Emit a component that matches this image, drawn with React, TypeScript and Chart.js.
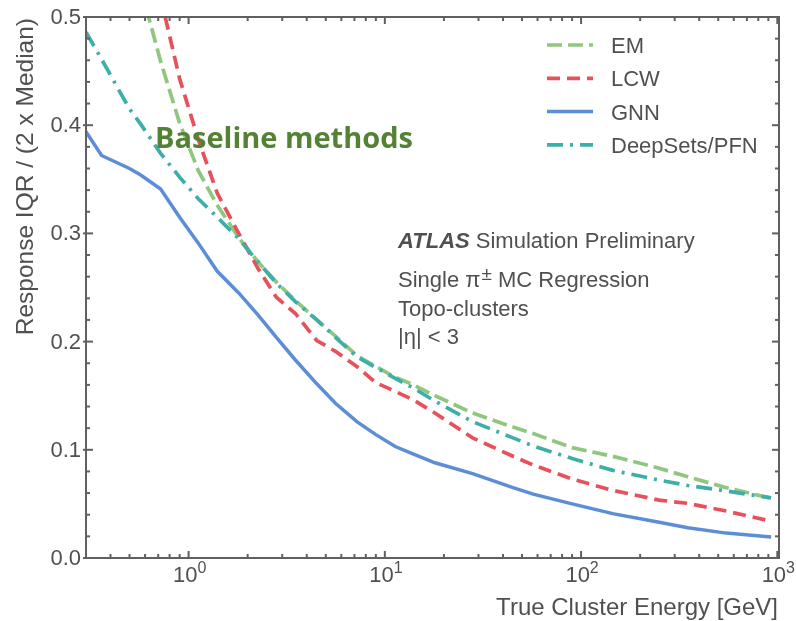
import React, { useEffect, useRef } from "react";
import { Chart, registerables } from "chart.js";

Chart.register(...registerables);

// ---- data ----
const energies = [0.3, 0.36, 0.5, 0.57, 0.72, 0.9, 1.12, 1.4, 1.8, 2.25, 2.8, 3.5, 4.5, 5.6, 7.2, 9, 11.3, 14, 18, 28, 45, 57, 90, 145, 250, 350, 550, 930];

const emValues = [null, null, null, 0.527, 0.459, 0.402, 0.358, 0.326, 0.296, 0.274, 0.255, 0.238, 0.22, 0.205, 0.187, 0.177, 0.167, 0.16, 0.15, 0.134, 0.121, 0.115, 0.102, 0.094, 0.083, 0.075, 0.065, 0.0552];
const lcwValues = [null, null, null, null, 0.518, 0.443, 0.387, 0.337, 0.3, 0.268, 0.241, 0.226, 0.201, 0.191, 0.177, 0.162, 0.154, 0.146, 0.134, 0.111, 0.094, 0.086, 0.073, 0.0625, 0.0535, 0.0505, 0.0434, 0.034];
const gnnValues = [0.394, 0.372, 0.36, 0.354, 0.341, 0.315, 0.291, 0.265, 0.245, 0.225, 0.204, 0.183, 0.161, 0.143, 0.126, 0.114, 0.103, 0.096, 0.088, 0.078, 0.065, 0.059, 0.05, 0.041, 0.033, 0.028, 0.023, 0.0195];
const deepSetsValues = [0.486, 0.461, 0.415, 0.401, 0.374, 0.352, 0.332, 0.315, 0.295, 0.274, 0.254, 0.237, 0.22, 0.204, 0.186, 0.176, 0.166, 0.157, 0.145, 0.126, 0.111, 0.1035, 0.092, 0.081, 0.072, 0.067, 0.062, 0.0555];

const seriesLabels = ["EM", "LCW", "GNN", "DeepSets/PFN"];

const yMajorTicks = [0, 0.1, 0.2, 0.3, 0.4, 0.5];
const xMajorTicks = [1, 10, 100, 1000];
const xTickExponents = ["0", "1", "2", "3"];

const xTitle = "True Cluster Energy [GeV]";
const yTitle = "Response IQR / (2 x Median)";
const overlayTitle = "Baseline methods";
const atlasLines = ["Single \u03c0", "Topo-clusters", "|\u03b7| < 3"];

// ---- styles ----
const AXIS = "#606060";
const TEXT = "#505050";
const FONT = "'Liberation Sans', Arial, sans-serif";

const toPoints = (vals: (number | null)[]) => energies.map((e, i) => ({ x: e, y: vals[i] }));

const chromePlugin = {
  id: "chrome",
  afterDatasetsDraw(chart: any) {
    const { ctx, chartArea: a, scales } = chart;
    const xs = scales.x;
    const ys = scales.y;
    ctx.save();
    ctx.strokeStyle = AXIS;
    ctx.lineWidth = 2;
    ctx.lineCap = "butt";
    const seg = (x1: number, y1: number, x2: number, y2: number) => {
      ctx.beginPath();
      ctx.moveTo(x1, y1);
      ctx.lineTo(x2, y2);
      ctx.stroke();
    };
    // frame
    ctx.strokeRect(a.left, a.top, a.right - a.left, a.bottom - a.top);

    // y ticks
    for (let i = 0; i <= 25; i++) {
      const v = i * 0.02;
      const py = ys.getPixelForValue(v);
      const major = i % 5 === 0;
      const len = major ? 7 : 4;
      seg(a.left - (major ? 3 : 0), py, a.left + len, py);
      seg(a.right - len, py, a.right, py);
    }
    // x ticks
    const decades = [0.1, 1, 10, 100];
    for (const d of decades) {
      for (let m = 1; m <= 9; m++) {
        const v = d * m;
        if (v < xs.min - 1e-9 || v > xs.max) continue;
        const px = xs.getPixelForValue(v);
        const major = m === 1;
        const len = major ? 7 : 4;
        seg(px, a.bottom, px, a.bottom - len);
        seg(px, a.top, px, a.top + len);
      }
    }
    {
      const px = xs.getPixelForValue(1000);
      seg(px, a.bottom, px, a.bottom - 7);
      seg(px, a.top, px, a.top + 7);
    }

    // y tick labels
    ctx.fillStyle = TEXT;
    ctx.font = `22px ${FONT}`;
    ctx.textAlign = "right";
    ctx.textBaseline = "middle";
    for (const v of yMajorTicks) {
      ctx.fillText(v.toFixed(1), a.left - 5, ys.getPixelForValue(v) + 1);
    }

    // x tick labels with exponent
    ctx.textBaseline = "alphabetic";
    ctx.textAlign = "left";
    xMajorTicks.forEach((v, i) => {
      const px = xs.getPixelForValue(v);
      ctx.font = `22px ${FONT}`;
      const w1 = ctx.measureText("10").width;
      ctx.font = `16px ${FONT}`;
      const w2 = ctx.measureText(xTickExponents[i]).width;
      const start = px - (w1 + w2) / 2 + 1;
      ctx.font = `22px ${FONT}`;
      ctx.fillText("10", start, 582);
      ctx.font = `16px ${FONT}`;
      ctx.fillText(xTickExponents[i], start + w1, 573);
    });

    // axis titles
    ctx.font = `24px ${FONT}`;
    ctx.textAlign = "right";
    ctx.fillText(xTitle, a.right - 1, 615);
    ctx.save();
    ctx.translate(26, a.top + 1);
    ctx.rotate(-Math.PI / 2);
    ctx.textAlign = "right";
    ctx.textBaseline = "middle";
    ctx.font = `24.5px ${FONT}`;
    ctx.fillText(yTitle, 0, 0);
    ctx.restore();

    // legend
    chart.data.datasets.forEach((ds: any, i: number) => {
      const ly = 45 + i * 33.3;
      ctx.save();
      ctx.strokeStyle = ds.borderColor;
      ctx.lineWidth = ds.borderWidth;
      ctx.setLineDash(ds.borderDash || []);
      seg(547, ly, 593, ly);
      ctx.restore();
      ctx.fillStyle = TEXT;
      ctx.font = `22px ${FONT}`;
      ctx.textAlign = "left";
      ctx.textBaseline = "alphabetic";
      ctx.fillText(ds.label, 611, ly + 8);
    });

    // annotations
    ctx.textAlign = "left";
    ctx.textBaseline = "alphabetic";
    ctx.font = `bold italic 22px ${FONT}`;
    ctx.fillText("ATLAS", 398, 248);
    const wA = ctx.measureText("ATLAS").width;
    ctx.font = `22px ${FONT}`;
    ctx.fillText(" Simulation Preliminary", 398 + wA, 248);

    ctx.fillText(atlasLines[0], 398, 287);
    const wS = ctx.measureText(atlasLines[0]).width;
    ctx.font = `19px ${FONT}`;
    ctx.fillText("\u00b1", 398 + wS + 1, 280);
    const wPm = ctx.measureText("\u00b1").width;
    ctx.font = `22px ${FONT}`;
    ctx.fillText(" MC Regression", 398 + wS + wPm + 1, 287);
    ctx.fillText(atlasLines[1], 398, 316);
    ctx.fillText(atlasLines[2], 398, 344);

    ctx.fillStyle = "#548235";
    ctx.font = `bold 29px 'Open Sans', sans-serif`;
    ctx.fillText(overlayTitle, 155, 148);

    ctx.restore();
  },
};

export default function App() {
  const canvasRef = useRef<HTMLCanvasElement | null>(null);

  useEffect(() => {
    document.body.style.margin = "0";
    document.body.style.overflow = "hidden";
    const canvas = canvasRef.current;
    if (!canvas) return;
    const chart = new Chart(canvas, {
      type: "line",
      data: {
        datasets: [
          { label: seriesLabels[0], data: toPoints(emValues), borderColor: "#8fc77e", borderWidth: 3.7, borderDash: [15, 6], pointRadius: 0, fill: false, order: 3 },
          { label: seriesLabels[1], data: toPoints(lcwValues), borderColor: "#e8505b", borderWidth: 3.7, borderDash: [13, 7], pointRadius: 0, fill: false, order: 2 },
          { label: seriesLabels[2], data: toPoints(gnnValues), borderColor: "#5b8ed6", borderWidth: 3.5, pointRadius: 0, fill: false, order: 1 },
          { label: seriesLabels[3], data: toPoints(deepSetsValues), borderColor: "#3daea8", borderWidth: 3.7, borderDash: [16, 7, 3, 7], pointRadius: 0, fill: false, order: 0 },
        ],
      },
      options: {
        animation: false,
        responsive: false,
        events: [],
        layout: { padding: { left: 86, top: 17, right: 17, bottom: 63 } },
        plugins: { legend: { display: false }, tooltip: { enabled: false } },
        scales: {
          x: { type: "logarithmic", min: 0.3, max: 1020, display: false },
          y: { type: "linear", min: 0, max: 0.5, display: false },
        },
      },
      plugins: [chromePlugin],
    });
    return () => chart.destroy();
  }, []);

  return (
    <div style={{ width: 796, height: 621, background: "#fff" }}>
      <canvas ref={canvasRef} width={796} height={621} />
    </div>
  );
}
